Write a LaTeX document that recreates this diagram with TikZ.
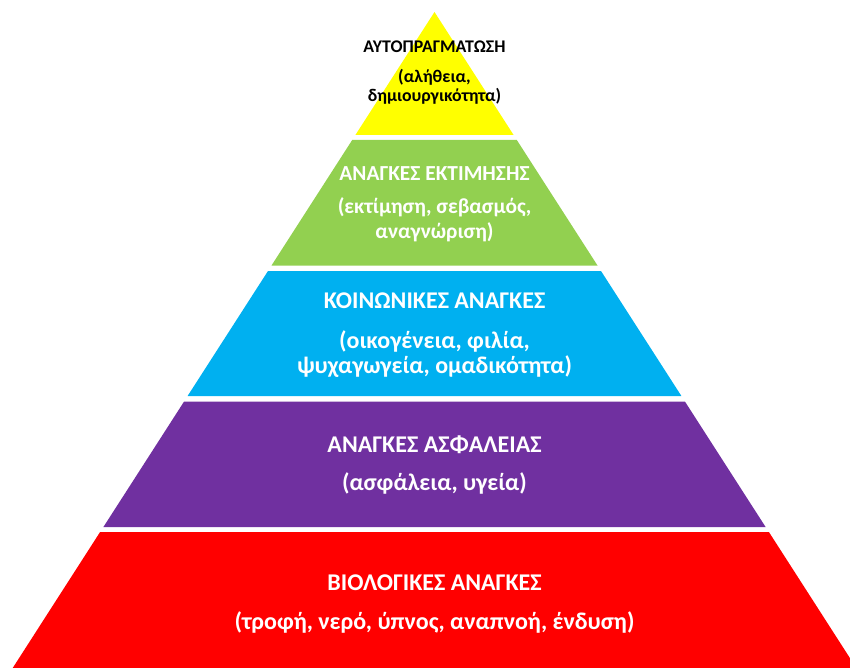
\documentclass[tikz,border=0pt]{standalone}
\usepackage{fontspec}
\setmainfont{Carlito}
\definecolor{pyryellow}{HTML}{FFFF00}
\definecolor{pyrgreen}{HTML}{92D050}
\definecolor{pyrblue}{HTML}{00B0F0}
\definecolor{pyrpurple}{HTML}{7030A0}
\definecolor{pyrred}{HTML}{FF0000}
\tikzset{
  lbl/.style={anchor=base, inner sep=0pt, font=\bfseries},
  darklbl/.style={lbl, text=black},
  lightlbl/.style={lbl, text=white},
  fsA/.style={font=\bfseries\fontsize{17.8}{20}\selectfont},
  fsB/.style={font=\bfseries\fontsize{21.4}{24}\selectfont},
  fsC/.style={font=\bfseries\fontsize{24}{27}\selectfont},
}
\begin{document}
\begin{tikzpicture}[x=1pt,y=-1pt]
\useasboundingbox (0,0) rectangle (850,668);
\clip (0,0) rectangle (850,668);
% layers
\fill[pyryellow] (434.5,12) -- (513.6,135) -- (355.4,135) -- cycle;
\fill[pyrgreen] (352.2,140) -- (516.8,140) -- (597.5,265.5) -- (271.5,265.5) -- cycle;
\fill[pyrblue] (268,271) -- (601,271) -- (681.4,396) -- (187.6,396) -- cycle;
\fill[pyrpurple] (184.1,401.5) -- (684.9,401.5) -- (765.6,527) -- (103.4,527) -- cycle;
\fill[pyrred] (100.1,532) -- (768.9,532) -- (856.3,668) -- (12.7,668) -- cycle;
% texts
\node[darklbl, fsA] (t1) at (434.5,53) {ΑΥΤΟΠΡΑΓΜΑΤΩΣΗ};
\node[darklbl, fsA] (t1a) at (434.5,82.5) {(αλήθεια,};
\node[darklbl, fsA] (t1b) at (434.5,101.5) {δημιουργικότητα)};
\node[lightlbl, fsB] (t2) at (434.5,181) {ΑΝΑΓΚΕΣ ΕΚΤΙΜΗΣΗΣ};
\node[lightlbl, fsB] (t2a) at (434.5,214) {(εκτίμηση, σεβασμός,};
\node[lightlbl, fsB] (t2b) at (434.5,238) {αναγνώριση)};
\node[lightlbl, fsC] (t3) at (434.5,308) {ΚΟΙΝΩΝΙΚΕΣ ΑΝΑΓΚΕΣ};
\node[lightlbl, fsC] (t3a) at (434.5,348) {(οικογένεια, φιλία,};
\node[lightlbl, fsC] (t3b) at (434.5,373) {ψυχαγωγεία, ομαδικότητα)};
\node[lightlbl, fsC] (t4) at (434.5,452) {ΑΝΑΓΚΕΣ ΑΣΦΑΛΕΙΑΣ};
\node[lightlbl, fsC] (t4a) at (434.5,490) {(ασφάλεια, υγεία)};
\node[lightlbl, fsC] (t5) at (434.5,590) {ΒΙΟΛΟΓΙΚΕΣ ΑΝΑΓΚΕΣ};
\node[lightlbl, fsC] (t5a) at (434.5,629) {(τροφή, νερό, ύπνος, αναπνοή, ένδυση)};
\end{tikzpicture}
\end{document}
